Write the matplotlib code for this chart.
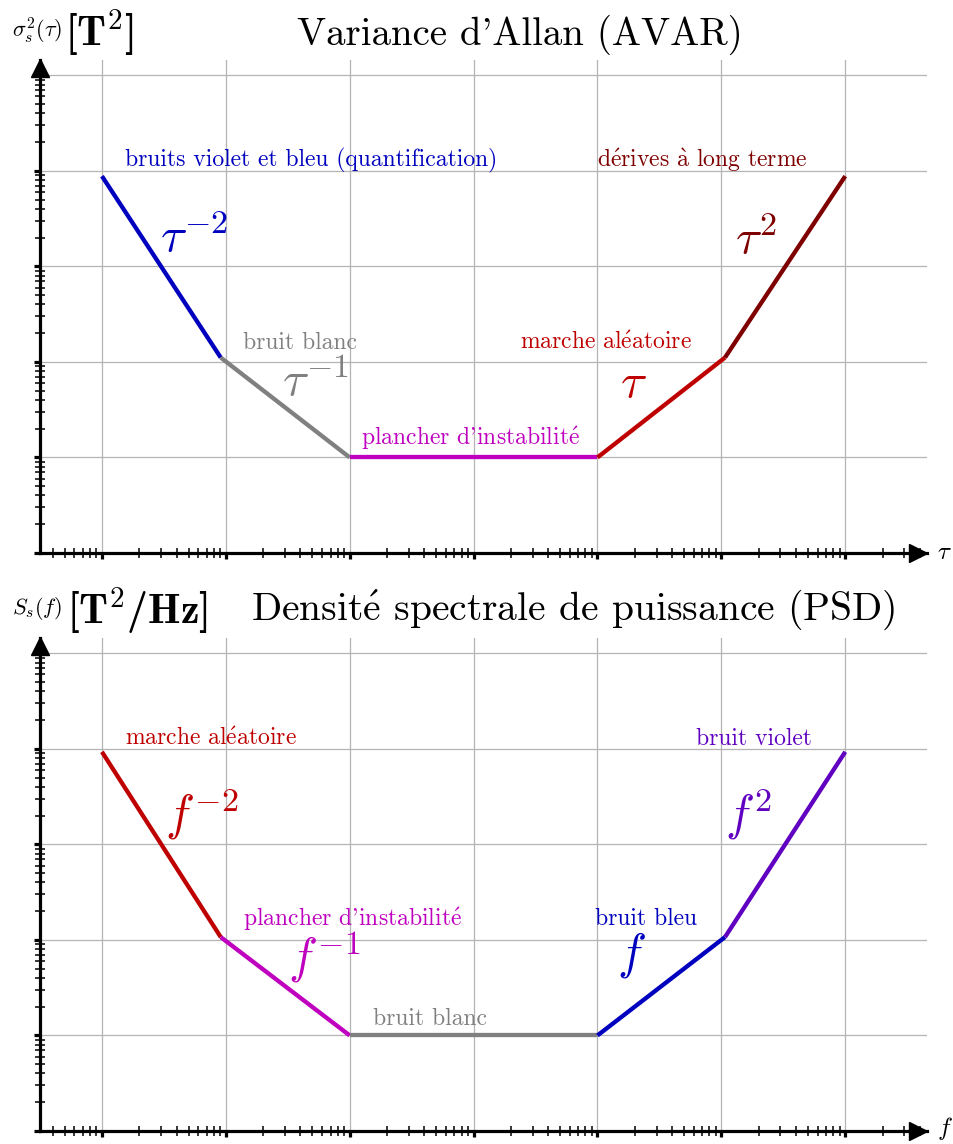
import numpy as np
import matplotlib.pyplot as plt
from matplotlib.ticker import LogLocator, NullFormatter

plt.rcParams['font.family'] = ['cmr10', 'DejaVu Serif']
plt.rcParams['mathtext.fontset'] = 'cm'
plt.rcParams['axes.formatter.use_mathtext'] = True

# variance d'Allan : coins des segments
tau = [1, 9.1, 100, 1e4, 1.07e5, 1e6]
avar = [8800, 111, 10, 10, 111, 8800]
avar_colors = ['#0000bf', '#808080', '#bf00bf', '#bf0000', '#7f0000']

# densite spectrale de puissance
freq = [1, 9.1, 100, 1e4, 1.07e5, 1e6]
psd = [9300, 107, 10, 10, 107, 9300]
psd_colors = ['#bf0000', '#bf00bf', '#808080', '#0000bf', '#6000c0']

W, H = 954, 1144
fig = plt.figure(figsize=(W / 100, H / 100), dpi=100)

E = r'$\acute{\mathrm{e}}$'
A = r'$\grave{\mathrm{a}}$'


def make_axes(top_px, bottom_px):
    ax = fig.add_axes([40 / W, 1 - bottom_px / H, (927 - 40) / W, (bottom_px - top_px) / H])
    ax.set_xscale('log')
    ax.set_yscale('log')
    ax.set_xlim(10 ** -0.5, 10 ** 6.66)
    ax.set_ylim(1, 10 ** 5.16)
    for s in ['top', 'right']:
        ax.spines[s].set_visible(False)
    for s in ['left', 'bottom']:
        ax.spines[s].set_linewidth(2.3)
    for axis in [ax.xaxis, ax.yaxis]:
        axis.set_major_locator(LogLocator(base=10, numticks=20))
        axis.set_minor_locator(LogLocator(base=10, subs=np.arange(2, 10), numticks=20))
        axis.set_major_formatter(NullFormatter())
        axis.set_minor_formatter(NullFormatter())
    ax.tick_params(which='major', direction='out', length=4, width=2.3)
    ax.tick_params(which='minor', direction='inout', length=7, width=1.1)
    ax.grid(True, which='major', color='#b4b4b4', linewidth=0.9)
    h = bottom_px - top_px
    ax.plot(1 - 9 / 887, 0, '>k', ms=13, transform=ax.transAxes, clip_on=False, zorder=5)
    ax.plot(0, 1 - 8 / h, '^k', ms=13, transform=ax.transAxes, clip_on=False, zorder=5)
    return ax


def draw_segments(ax, x, y, colors):
    for i, c in enumerate(colors):
        ax.plot(x[i:i + 2], y[i:i + 2], color=c, lw=3.1, solid_capstyle='butt', zorder=3)


small = 17
big = 35

# --- AVAR ---
ax1 = make_axes(60, 553)
draw_segments(ax1, tau, avar, avar_colors)
ax1.text(1.53, 1.1e4, 'bruits violet et bleu (quantification)', color='#0000bf', fontsize=small)
ax1.text(2.94, 1400, r'$\tau^{-2}$', color='#0000bf', fontsize=big)
ax1.text(13.7, 138, 'bruit blanc', color='#808080', fontsize=small)
ax1.text(28.4, 44, r'$\tau^{-1}$', color='#808080', fontsize=big)
ax1.text(123, 13.6, "plancher d'instabilit" + E, color='#bf00bf', fontsize=small)
ax1.text(2366, 138, 'marche al' + E + 'atoire', color='#bf0000', fontsize=small)
ax1.text(1.52e4, 43, r'$\tau$', color='#bf0000', fontsize=big)
ax1.text(9890, 1.1e4, 'd' + E + 'rives ' + A + ' long terme', color='#7f0000', fontsize=small)
ax1.text(1.28e5, 1340, r'$\tau^{2}$', color='#7f0000', fontsize=big)

fig.text(12 / W, 1 - 31 / H, r'$\sigma_s^2(\tau)$', fontsize=16, va='center')
fig.text(65 / W, 1 - 33 / H, r'[T$\mathbf{^2}$]', fontsize=30, va='center',
         family=['cmb10', 'DejaVu Serif'])
fig.text(520 / W, 1 - 35 / H, "Variance d'Allan (AVAR)", fontsize=28, ha='center', va='center')
fig.text(937 / W, 1 - 553 / H, r'$\tau$', fontsize=18, va='center')

# --- PSD ---
ax2 = make_axes(638, 1131)
draw_segments(ax2, freq, psd, psd_colors)
ax2.text(1.53, 1.1e4, 'marche al' + E + 'atoire', color='#bf0000', fontsize=small)
ax2.text(3.2, 1420, r'$f^{-2}$', color='#bf0000', fontsize=big)
ax2.text(13.7, 140, "plancher d'instabilit" + E, color='#bf00bf', fontsize=small)
ax2.text(31.8, 46, r'$f^{-1}$', color='#bf00bf', fontsize=big)
ax2.text(154, 12.9, 'bruit blanc', color='#808080', fontsize=small)
ax2.text(9500, 144, 'bruit bleu', color='#0000bf', fontsize=small)
ax2.text(1.43e4, 51, r'$f$', color='#0000bf', fontsize=big)
ax2.text(6.3e4, 1.1e4, 'bruit violet', color='#6000c0', fontsize=small)
ax2.text(1.07e5, 1420, r'$f^{2}$', color='#6000c0', fontsize=big)

fig.text(12 / W, 1 - 609 / H, r'$S_s(f)$', fontsize=16, va='center')
fig.text(67 / W, 1 - 611 / H, r'[T$\mathbf{^2}$/Hz]', fontsize=30, va='center',
         family=['cmb10', 'DejaVu Serif'])
fig.text(573 / W, 1 - 610 / H, 'Densit' + E + ' spectrale de puissance (PSD)', fontsize=28.5,
         ha='center', va='center')
fig.text(937 / W, 1 - 1128 / H, r'$f$', fontsize=18, va='center')

fig.savefig('out.png', dpi=100)
